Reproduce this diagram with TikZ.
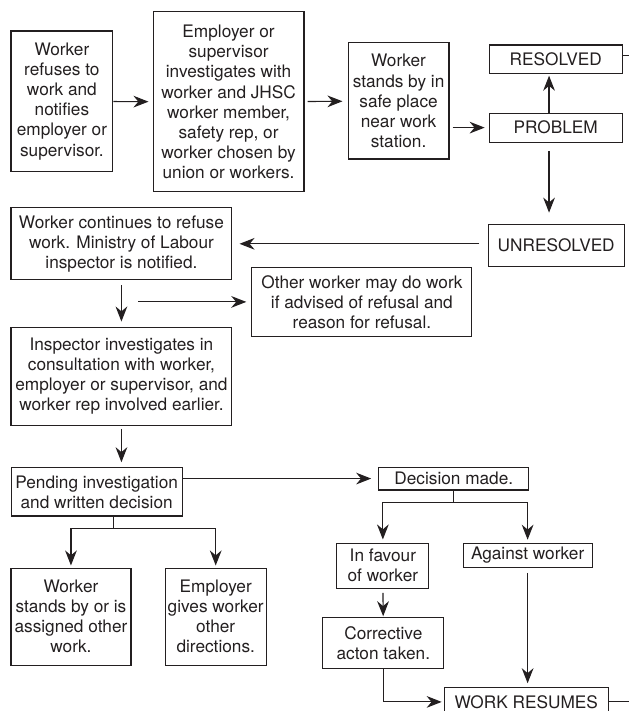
\documentclass[tikz,border=0pt]{standalone}
\usepackage{fontspec}
\setmainfont{TeX Gyre Heros}
\usetikzlibrary{arrows.meta}
\definecolor{ink}{RGB}{35,31,32}
\begin{document}
\begin{tikzpicture}[>={Stealth[length=9pt,width=7pt]}, line width=0.7pt, draw=ink, text=ink,
  font=\fontsize{10.3}{12}\selectfont,
  box/.style={draw=ink, align=center, inner sep=1pt}]
\useasboundingbox (0,0) rectangle (13.209,-14.931);
\node[box, minimum width=2.14cm, minimum height=2.96cm] (a) at (1.30,-2.13) {Worker\\refuses to\\work and\\notifies\\employer or\\supervisor.};
\node[box, minimum width=3.17cm, minimum height=3.78cm] (b) at (4.80,-2.14) {Employer or\\supervisor\\investigates with\\worker and JHSC\\worker member,\\safety rep, or\\worker chosen by\\union or workers.};
\node[box, minimum width=2.12cm, minimum height=2.44cm] (c) at (8.37,-2.12) {Worker\\stands by in\\safe place\\near work\\station.};
\node[box, minimum width=2.79cm, minimum height=0.61cm] (d) at (11.67,-2.68) {PROBLEM};
\node[box, minimum width=2.79cm, minimum height=0.59cm] (e) at (11.67,-1.24) {RESOLVED};
\node[box, minimum width=2.86cm, minimum height=0.88cm] (f) at (11.68,-5.15) {UNRESOLVED};
\node[box, minimum width=4.64cm, minimum height=1.51cm] (g) at (2.55,-5.12) {Worker continues to refuse\\work. Ministry of Labour\\inspector is notified.};
\node[box, minimum width=4.62cm, minimum height=1.45cm] (h) at (7.60,-6.35) {Other worker may do work\\if advised of refusal and\\reason for refusal.};
\node[box, minimum width=4.64cm, minimum height=2.06cm] (i) at (2.55,-7.90) {Inspector investigates in\\consultation with worker,\\employer or supervisor, and\\worker rep involved earlier.};
\node[box, minimum width=3.59cm, minimum height=1.01cm] (j) at (2.03,-10.33) {Pending investigation\\and written decision};
\node[box, minimum width=2.52cm, minimum height=2.04cm] (k) at (1.49,-12.95) {Worker\\stands by or is\\assigned other\\work.};
\node[box, minimum width=2.12cm, minimum height=2.04cm] (l) at (4.53,-12.95) {Employer\\gives worker\\other\\directions.};
\node[box, minimum width=3.15cm, minimum height=0.48cm] (m) at (9.53,-10.05) {Decision made.};
\node[box, minimum width=1.93cm, minimum height=0.95cm] (n) at (8.04,-11.88) {In favour\\of worker};
\node[box, minimum width=2.71cm, minimum height=0.50cm] (o) at (11.08,-11.66) {Against worker};
\node[box, minimum width=2.54cm, minimum height=1.07cm] (p) at (8.05,-13.51) {Corrective\\acton taken.};
\node[box, minimum width=3.44cm, minimum height=0.59cm] (q) at (11.05,-14.74) {WORK RESUMES};
\coordinate (s) at (2.90,-6.34);
\coordinate (jb) at (2.39,-11.09);
\coordinate (mb) at (9.53,-10.56);
\coordinate (e1) at (13.21,-1.16);
\coordinate (q1) at (13.21,-14.74);
% top row
\draw[->, shorten >=2.4pt] (a) -- (b);
\draw[->, shorten <=1.8pt, shorten >=3pt] (b) -- (c);
\draw[->, shorten <=1.8pt, shorten >=2.4pt] (c.east |- d) -- (d);
\draw[->, shorten >=1.2pt] ([xshift=-0.14cm]d.north) -- ([xshift=-0.14cm]e.south);
\draw[->, shorten <=4.8pt, shorten >=6.6pt] ([xshift=-0.14cm]d.south) -- ([xshift=-0.14cm]d.south |- f.north);
\draw (e.east |- e1) -- (e1);
% refusal continues
\draw[->, shorten <=4.8pt, shorten >=4.2pt] (f.west |- g) -- (g);
\draw[->, shorten <=3pt, shorten >=3pt] (g) -- (i);
\draw[->, shorten >=3pt] (s) -- (s -| h.west);
\draw[->, shorten <=1.8pt, shorten >=3pt] (i) -- (i |- j.north);
% pending and decision
\draw[->, shorten >=4.2pt] (j.east |- m) -- (m);
\draw (j.south -| jb) -- (jb);
\draw[->, shorten >=1.2pt] (jb) -| (k);
\draw[->, shorten >=1.2pt] (jb) -| (l);
\draw (m) -- (mb);
\draw[->, shorten >=1.8pt] (mb) -| (n);
\draw[->, shorten >=1.8pt] (mb) -| (o);
\draw[->, shorten <=2.4pt, shorten >=0.6pt] (n) -- (p);
\draw[->, shorten <=3pt, shorten >=2.4pt] (o) -- (o |- q.north);
\draw[->, shorten >=1.2pt] (p) |- (q.west |- q1);
\draw (q.east |- q1) -- (q1);
\end{tikzpicture}
\end{document}
